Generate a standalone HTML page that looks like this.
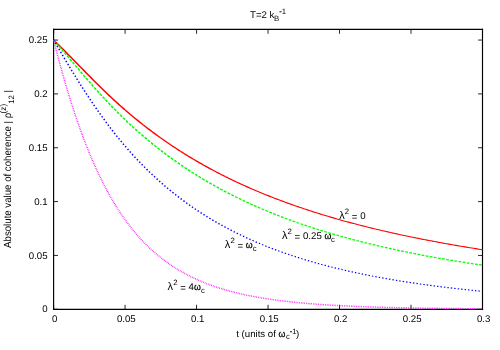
<!DOCTYPE html>
<html><head><meta charset="utf-8"><title>plot</title>
<style>
html,body{margin:0;padding:0;background:#fff;}
svg{display:block;will-change:transform;}
text{font-family:"Liberation Sans",sans-serif;font-size:9.66px;fill:#000;text-rendering:geometricPrecision;}
</style></head><body>
<svg width="500" height="350" viewBox="0 0 500 350">
<rect width="500" height="350" fill="#fff"/>
<path d="M53.60 309.28 h4.4 M482.50 309.28 h-4.4 M53.60 255.43 h4.4 M482.50 255.43 h-4.4 M53.60 201.59 h4.4 M482.50 201.59 h-4.4 M53.60 147.74 h4.4 M482.50 147.74 h-4.4 M53.60 93.90 h4.4 M482.50 93.90 h-4.4 M53.60 40.05 h4.4 M482.50 40.05 h-4.4 M53.60 309.28 v-4.5 M53.60 29.28 v4.5 M125.08 309.28 v-4.5 M125.08 29.28 v4.5 M196.57 309.28 v-4.5 M196.57 29.28 v4.5 M268.05 309.28 v-4.5 M268.05 29.28 v4.5 M339.53 309.28 v-4.5 M339.53 29.28 v4.5 M411.02 309.28 v-4.5 M411.02 29.28 v4.5 M482.50 309.28 v-4.5 M482.50 29.28 v4.5" stroke="#000" stroke-width="0.85" fill="none"/>
<path d="M53.60 29.28 H482.50 M53.60 309.28 H482.50" stroke="#000" stroke-width="1.2" stroke-linecap="square" fill="none"/>
<path d="M53.60 29.28 V309.28 M482.50 29.28 V309.28" stroke="#000" stroke-width="1.15" stroke-linecap="square" fill="none"/>
<g fill="none" stroke-linejoin="round">
<path d="M53.60 39.99 L55.39 41.73 L57.17 43.48 L58.96 45.24 L60.75 47.01 L62.54 48.80 L64.32 50.59 L66.11 52.39 L67.90 54.20 L69.68 56.02 L71.47 57.84 L73.26 59.67 L75.05 61.49 L76.83 63.32 L78.62 65.15 L80.41 66.98 L82.19 68.80 L83.98 70.62 L85.77 72.44 L87.55 74.26 L89.34 76.07 L91.13 77.87 L92.92 79.67 L94.70 81.45 L96.49 83.23 L98.28 85.00 L100.06 86.76 L101.85 88.51 L103.64 90.24 L105.43 91.96 L107.21 93.67 L109.00 95.37 L110.79 97.05 L112.57 98.72 L114.36 100.37 L116.15 102.00 L117.94 103.62 L119.72 105.22 L121.51 106.81 L123.30 108.38 L125.08 109.93" stroke="#ff0000" stroke-width="1.50"/>
<path d="M125.08 109.93 L126.87 111.47 L128.66 113.00 L130.44 114.51 L132.23 116.01 L134.02 117.49 L135.81 118.95 L137.59 120.41 L139.38 121.84 L141.17 123.27 L142.95 124.68" stroke="#ff0000" stroke-width="1.45"/>
<path d="M142.95 124.68 L144.74 126.07 L146.53 127.46 L148.32 128.83 L150.10 130.18 L151.89 131.52 L153.68 132.85 L155.46 134.17 L157.25 135.47 L159.04 136.76 L160.82 138.04" stroke="#ff0000" stroke-width="1.40"/>
<path d="M160.82 138.04 L162.61 139.30 L164.40 140.55 L166.19 141.79 L167.97 143.02 L169.76 144.24 L171.55 145.44 L173.33 146.63 L175.12 147.81 L176.91 148.98 L178.70 150.14 L180.48 151.28" stroke="#ff0000" stroke-width="1.35"/>
<path d="M180.48 151.28 L182.27 152.41 L184.06 153.54 L185.84 154.65 L187.63 155.75 L189.42 156.84 L191.21 157.91 L192.99 158.98 L194.78 160.04 L196.57 161.09 L198.35 162.12 L200.14 163.15 L201.93 164.16" stroke="#ff0000" stroke-width="1.30"/>
<path d="M201.93 164.16 L203.71 165.17 L205.50 166.17 L207.29 167.15 L209.08 168.13 L210.86 169.10 L212.65 170.06 L214.44 171.00 L216.22 171.94 L218.01 172.87 L219.80 173.80 L221.59 174.71 L223.37 175.61 L225.16 176.51" stroke="#ff0000" stroke-width="1.25"/>
<path d="M225.16 176.51 L226.95 177.40 L228.73 178.27 L230.52 179.14 L232.31 180.01 L234.10 180.86 L235.88 181.71 L237.67 182.54 L239.46 183.37 L241.24 184.19 L243.03 185.01 L244.82 185.82 L246.61 186.62 L248.39 187.41 L250.18 188.19 L251.97 188.97" stroke="#ff0000" stroke-width="1.20"/>
<path d="M251.97 188.97 L253.75 189.74 L255.54 190.50 L257.33 191.26 L259.11 192.01 L260.90 192.75 L262.69 193.49 L264.48 194.22 L266.26 194.94 L268.05 195.65 L269.84 196.36 L271.62 197.07 L273.41 197.76 L275.20 198.45 L276.99 199.14 L278.77 199.81 L280.56 200.49 L282.35 201.15 L284.13 201.81 L285.92 202.47 L287.71 203.12 L289.50 203.76 L291.28 204.40 L293.07 205.03 L294.86 205.65" stroke="#ff0000" stroke-width="1.15"/>
<path d="M294.86 205.65 L296.64 206.27 L298.43 206.89 L300.22 207.50 L302.00 208.10 L303.79 208.70 L305.58 209.30 L307.37 209.89 L309.15 210.47 L310.94 211.05 L312.73 211.62 L314.51 212.19 L316.30 212.76 L318.09 213.32 L319.88 213.87 L321.66 214.42 L323.45 214.97 L325.24 215.51 L327.02 216.05 L328.81 216.58 L330.60 217.10 L332.38 217.63 L334.17 218.15 L335.96 218.66 L337.75 219.17 L339.53 219.68 L341.32 220.18 L343.11 220.68 L344.89 221.17 L346.68 221.66 L348.47 222.15 L350.26 222.63 L352.04 223.11 L353.83 223.58 L355.62 224.05 L357.40 224.52 L359.19 224.98 L360.98 225.44 L362.77 225.89 L364.55 226.34 L366.34 226.79 L368.13 227.24 L369.91 227.68 L371.70 228.12 L373.49 228.55 L375.27 228.98 L377.06 229.41 L378.85 229.83 L380.64 230.25 L382.42 230.67 L384.21 231.08 L386.00 231.49 L387.78 231.90 L389.57 232.31 L391.36 232.71 L393.15 233.11 L394.93 233.50 L396.72 233.90 L398.51 234.28 L400.29 234.67 L402.08 235.06 L403.87 235.44 L405.66 235.81 L407.44 236.19 L409.23 236.56 L411.02 236.93 L412.80 237.30 L414.59 237.66 L416.38 238.02 L418.17 238.38 L419.95 238.74 L421.74 239.09 L423.53 239.44 L425.31 239.79 L427.10 240.14 L428.89 240.48 L430.67 240.82 L432.46 241.16 L434.25 241.49 L436.04 241.83 L437.82 242.16 L439.61 242.49 L441.40 242.81 L443.18 243.14 L444.97 243.46 L446.76 243.78 L448.55 244.10 L450.33 244.41 L452.12 244.72 L453.91 245.04 L455.69 245.34 L457.48 245.65 L459.27 245.95 L461.06 246.26 L462.84 246.56 L464.63 246.85 L466.42 247.15 L468.20 247.44 L469.99 247.74 L471.78 248.03 L473.56 248.32 L475.35 248.60 L477.14 248.89 L478.93 249.17 L480.71 249.45 L482.50 249.73" stroke="#ff0000" stroke-width="1.10"/>
<path d="M53.60 39.99 L55.39 42.06 L57.17 44.14 L58.96 46.23 L60.75 48.32 L62.54 50.42 L64.32 52.52 L66.11 54.63 L67.90 56.74 L69.68 58.85 L71.47 60.96 L73.26 63.07 L75.05 65.18 L76.83 67.28 L78.62 69.38 L80.41 71.48 L82.19 73.56 L83.98 75.64 L85.77 77.71 L87.55 79.78 L89.34 81.83 L91.13 83.87 L92.92 85.90 L94.70 87.91 L96.49 89.91 L98.28 91.90 L100.06 93.88 L101.85 95.83 L103.64 97.78 L105.43 99.70 L107.21 101.61 L109.00 103.50 L110.79 105.37 L112.57 107.22 L114.36 109.06 L116.15 110.87 L117.94 112.67 L119.72 114.44 L121.51 116.20 L123.30 117.94 L125.08 119.66 L126.87 121.36 L128.66 123.04 L130.44 124.70 L132.23 126.35 L134.02 127.98 L135.81 129.59 L137.59 131.18 L139.38 132.76 L141.17 134.32 L142.95 135.86 L144.74 137.39 L146.53 138.90 L148.32 140.39 L150.10 141.87 L151.89 143.33 L153.68 144.78 L155.46 146.21 L157.25 147.63 L159.04 149.03 L160.82 150.41 L162.61 151.78 L164.40 153.14 L166.19 154.48 L167.97 155.80 L169.76 157.12 L171.55 158.41 L173.33 159.70 L175.12 160.97 L176.91 162.23 L178.70 163.47 L180.48 164.70 L182.27 165.91 L184.06 167.12 L185.84 168.31 L187.63 169.49 L189.42 170.65 L191.21 171.80 L192.99 172.94" stroke="#00ff00" stroke-width="1.50" stroke-dasharray="2.78 1.39" stroke-dashoffset="0.00"/>
<path d="M192.99 172.94 L194.78 174.07 L196.57 175.19 L198.35 176.29 L200.14 177.39 L201.93 178.47 L203.71 179.53 L205.50 180.59 L207.29 181.64 L209.08 182.68 L210.86 183.70 L212.65 184.71" stroke="#00ff00" stroke-width="1.45" stroke-dasharray="2.78 1.39" stroke-dashoffset="1.73"/>
<path d="M212.65 184.71 L214.44 185.72 L216.22 186.71 L218.01 187.69 L219.80 188.67 L221.59 189.63 L223.37 190.58 L225.16 191.52 L226.95 192.45 L228.73 193.38 L230.52 194.29 L232.31 195.20 L234.10 196.09" stroke="#00ff00" stroke-width="1.40" stroke-dasharray="2.78 1.39" stroke-dashoffset="3.79"/>
<path d="M234.10 196.09 L235.88 196.98 L237.67 197.85 L239.46 198.72 L241.24 199.58 L243.03 200.43 L244.82 201.27 L246.61 202.11 L248.39 202.93 L250.18 203.75 L251.97 204.56 L253.75 205.36 L255.54 206.15 L257.33 206.93 L259.11 207.71" stroke="#00ff00" stroke-width="1.35" stroke-dasharray="2.78 1.39" stroke-dashoffset="3.05"/>
<path d="M259.11 207.71 L260.90 208.48 L262.69 209.24 L264.48 209.99 L266.26 210.74 L268.05 211.48 L269.84 212.21 L271.62 212.94 L273.41 213.65 L275.20 214.37 L276.99 215.07 L278.77 215.77 L280.56 216.46 L282.35 217.14 L284.13 217.82 L285.92 218.49 L287.71 219.15 L289.50 219.81 L291.28 220.46 L293.07 221.11 L294.86 221.74 L296.64 222.38 L298.43 223.00" stroke="#00ff00" stroke-width="1.30" stroke-dasharray="2.78 1.39" stroke-dashoffset="1.45"/>
<path d="M298.43 223.00 L300.22 223.63 L302.00 224.24 L303.79 224.85 L305.58 225.45 L307.37 226.05 L309.15 226.64 L310.94 227.23 L312.73 227.81 L314.51 228.39 L316.30 228.96 L318.09 229.52 L319.88 230.09 L321.66 230.64 L323.45 231.19 L325.24 231.73 L327.02 232.27 L328.81 232.81 L330.60 233.34 L332.38 233.87 L334.17 234.39 L335.96 234.90 L337.75 235.41 L339.53 235.92 L341.32 236.42 L343.11 236.92 L344.89 237.41 L346.68 237.90 L348.47 238.39 L350.26 238.87 L352.04 239.34 L353.83 239.81 L355.62 240.28 L357.40 240.74 L359.19 241.20 L360.98 241.66 L362.77 242.11 L364.55 242.56 L366.34 243.00 L368.13 243.44 L369.91 243.87 L371.70 244.31 L373.49 244.73 L375.27 245.16 L377.06 245.58 L378.85 246.00 L380.64 246.41 L382.42 246.82 L384.21 247.23 L386.00 247.63 L387.78 248.03 L389.57 248.43 L391.36 248.82 L393.15 249.21 L394.93 249.60 L396.72 249.98 L398.51 250.36 L400.29 250.74 L402.08 251.11 L403.87 251.48 L405.66 251.85 L407.44 252.21 L409.23 252.58 L411.02 252.93 L412.80 253.29 L414.59 253.64 L416.38 253.99 L418.17 254.34 L419.95 254.68 L421.74 255.03 L423.53 255.36 L425.31 255.70 L427.10 256.03 L428.89 256.36 L430.67 256.69 L432.46 257.02 L434.25 257.34 L436.04 257.66 L437.82 257.98 L439.61 258.29 L441.40 258.60 L443.18 258.91 L444.97 259.22 L446.76 259.53 L448.55 259.83 L450.33 260.13 L452.12 260.43 L453.91 260.72 L455.69 261.02 L457.48 261.31 L459.27 261.60 L461.06 261.89 L462.84 262.17 L464.63 262.45 L466.42 262.73 L468.20 263.01 L469.99 263.29 L471.78 263.56 L473.56 263.83 L475.35 264.10 L477.14 264.37 L478.93 264.64 L480.71 264.90 L482.50 265.16" stroke="#00ff00" stroke-width="1.25" stroke-dasharray="2.78 1.39" stroke-dashoffset="1.94"/>
<path d="M53.60 39.99 L55.39 43.06 L57.17 46.12 L58.96 49.17 L60.75 52.21 L62.54 55.23 L64.32 58.24 L66.11 61.23 L67.90 64.21 L69.68 67.16 L71.47 70.10 L73.26 73.02 L75.05 75.92 L76.83 78.80 L78.62 81.65 L80.41 84.48 L82.19 87.29 L83.98 90.07 L85.77 92.83 L87.55 95.56 L89.34 98.26 L91.13 100.94 L92.92 103.58 L94.70 106.20 L96.49 108.79 L98.28 111.35 L100.06 113.89 L101.85 116.39 L103.64 118.86 L105.43 121.30 L107.21 123.71 L109.00 126.08 L110.79 128.43 L112.57 130.74 L114.36 133.03 L116.15 135.28 L117.94 137.50 L119.72 139.68 L121.51 141.84 L123.30 143.97 L125.08 146.07 L126.87 148.14 L128.66 150.18 L130.44 152.19 L132.23 154.17 L134.02 156.13 L135.81 158.06 L137.59 159.96 L139.38 161.84 L141.17 163.69 L142.95 165.51 L144.74 167.31 L146.53 169.08 L148.32 170.83 L150.10 172.56 L151.89 174.26 L153.68 175.94 L155.46 177.59 L157.25 179.22 L159.04 180.83 L160.82 182.42 L162.61 183.98 L164.40 185.53 L166.19 187.05 L167.97 188.55 L169.76 190.03 L171.55 191.49 L173.33 192.93 L175.12 194.35 L176.91 195.75 L178.70 197.13 L180.48 198.49 L182.27 199.84 L184.06 201.16 L185.84 202.47 L187.63 203.76" stroke="#0000ff" stroke-width="1.50" stroke-dasharray="1.39 2.08" stroke-dashoffset="0.00"/>
<path d="M187.63 203.76 L189.42 205.03 L191.21 206.28 L192.99 207.52 L194.78 208.74 L196.57 209.94 L198.35 211.13 L200.14 212.30 L201.93 213.45" stroke="#0000ff" stroke-width="1.45" stroke-dasharray="1.39 2.08" stroke-dashoffset="1.72"/>
<path d="M201.93 213.45 L203.71 214.59 L205.50 215.72 L207.29 216.83 L209.08 217.92 L210.86 219.00 L212.65 220.06 L214.44 221.11 L216.22 222.15 L218.01 223.17" stroke="#0000ff" stroke-width="1.40" stroke-dasharray="1.39 2.08" stroke-dashoffset="1.65"/>
<path d="M218.01 223.17 L219.80 224.18 L221.59 225.17 L223.37 226.15 L225.16 227.12 L226.95 228.08 L228.73 229.02 L230.52 229.95 L232.31 230.87 L234.10 231.78 L235.88 232.67" stroke="#0000ff" stroke-width="1.35" stroke-dasharray="1.39 2.08" stroke-dashoffset="3.09"/>
<path d="M235.88 232.67 L237.67 233.55 L239.46 234.43 L241.24 235.29 L243.03 236.13 L244.82 236.97 L246.61 237.80 L248.39 238.61 L250.18 239.42 L251.97 240.21 L253.75 241.00" stroke="#0000ff" stroke-width="1.30" stroke-dasharray="1.39 2.08" stroke-dashoffset="2.51"/>
<path d="M253.75 241.00 L255.54 241.77 L257.33 242.54 L259.11 243.29 L260.90 244.04 L262.69 244.77 L264.48 245.50 L266.26 246.21 L268.05 246.92 L269.84 247.62 L271.62 248.31 L273.41 248.99 L275.20 249.66 L276.99 250.32 L278.77 250.98 L280.56 251.63 L282.35 252.27 L284.13 252.90" stroke="#0000ff" stroke-width="1.25" stroke-dasharray="1.39 2.08" stroke-dashoffset="1.41"/>
<path d="M284.13 252.90 L285.92 253.52 L287.71 254.13 L289.50 254.74 L291.28 255.34 L293.07 255.93 L294.86 256.52 L296.64 257.10 L298.43 257.67 L300.22 258.23 L302.00 258.79 L303.79 259.34 L305.58 259.88 L307.37 260.41 L309.15 260.94 L310.94 261.47 L312.73 261.98 L314.51 262.49 L316.30 263.00 L318.09 263.49 L319.88 263.99 L321.66 264.47 L323.45 264.95 L325.24 265.43 L327.02 265.89 L328.81 266.36 L330.60 266.81 L332.38 267.27 L334.17 267.71 L335.96 268.15 L337.75 268.59 L339.53 269.02 L341.32 269.44 L343.11 269.86 L344.89 270.28 L346.68 270.69 L348.47 271.09 L350.26 271.50 L352.04 271.89 L353.83 272.28 L355.62 272.67 L357.40 273.05 L359.19 273.43 L360.98 273.80 L362.77 274.17 L364.55 274.53 L366.34 274.89 L368.13 275.25 L369.91 275.60 L371.70 275.95 L373.49 276.29 L375.27 276.63 L377.06 276.97 L378.85 277.30 L380.64 277.63 L382.42 277.95 L384.21 278.27 L386.00 278.59 L387.78 278.90 L389.57 279.21 L391.36 279.52 L393.15 279.82 L394.93 280.12 L396.72 280.42 L398.51 280.71 L400.29 281.00 L402.08 281.28 L403.87 281.57 L405.66 281.84 L407.44 282.12 L409.23 282.39 L411.02 282.66 L412.80 282.93 L414.59 283.20 L416.38 283.46 L418.17 283.71 L419.95 283.97 L421.74 284.22 L423.53 284.47 L425.31 284.72 L427.10 284.96 L428.89 285.20 L430.67 285.44 L432.46 285.68 L434.25 285.91 L436.04 286.14 L437.82 286.37 L439.61 286.60 L441.40 286.82 L443.18 287.04 L444.97 287.26 L446.76 287.48 L448.55 287.69 L450.33 287.90 L452.12 288.11 L453.91 288.32 L455.69 288.52 L457.48 288.73 L459.27 288.93 L461.06 289.12 L462.84 289.32 L464.63 289.51 L466.42 289.71 L468.20 289.90 L469.99 290.08 L471.78 290.27 L473.56 290.45 L475.35 290.63 L477.14 290.81 L478.93 290.99 L480.71 291.17 L482.50 291.34" stroke="#0000ff" stroke-width="1.20" stroke-dasharray="1.39 2.08" stroke-dashoffset="2.82"/>
<path d="M53.60 39.99 L55.39 47.03 L57.17 53.90 L58.96 60.61 L60.75 67.18 L62.54 73.59 L64.32 79.84 L66.11 85.95 L67.90 91.92 L69.68 97.74 L71.47 103.42 L73.26 108.96 L75.05 114.36 L76.83 119.63 L78.62 124.77 L80.41 129.78 L82.19 134.66 L83.98 139.41 L85.77 144.05 L87.55 148.56 L89.34 152.95 L91.13 157.23 L92.92 161.40 L94.70 165.46 L96.49 169.41 L98.28 173.25 L100.06 176.99 L101.85 180.62 L103.64 184.16 L105.43 187.61 L107.21 190.95 L109.00 194.21 L110.79 197.37 L112.57 200.45 L114.36 203.44 L116.15 206.35 L117.94 209.17 L119.72 211.92 L121.51 214.59 L123.30 217.19 L125.08 219.71 L126.87 222.16 L128.66 224.54 L130.44 226.86 L132.23 229.11 L134.02 231.30 L135.81 233.43 L137.59 235.50 L139.38 237.51 L141.17 239.47 L142.95 241.37 L144.74 243.22 L146.53 245.01 L148.32 246.76 L150.10 248.46 L151.89 250.11 L153.68 251.71 L155.46 253.28 L157.25 254.79 L159.04 256.27 L160.82 257.70 L162.61 259.10 L164.40 260.45 L166.19 261.77 L167.97 263.05 L169.76 264.30 L171.55 265.51 L173.33 266.69 L175.12 267.84 L176.91 268.95 L178.70 270.04 L180.48 271.09 L182.27 272.11 L184.06 273.11 L185.84 274.08 L187.63 275.02 L189.42 275.94 L191.21 276.83 L192.99 277.70 L194.78 278.54 L196.57 279.36 L198.35 280.16 L200.14 280.93 L201.93 281.69 L203.71 282.42 L205.50 283.14 L207.29 283.83 L209.08 284.51 L210.86 285.16 L212.65 285.80 L214.44 286.42 L216.22 287.03 L218.01 287.62 L219.80 288.19 L221.59 288.75 L223.37 289.29 L225.16 289.81 L226.95 290.33 L228.73 290.83 L230.52 291.31 L232.31 291.78 L234.10 292.24 L235.88 292.69 L237.67 293.13 L239.46 293.55 L241.24 293.96 L243.03 294.36 L244.82 294.75 L246.61 295.13 L248.39 295.50 L250.18 295.86 L251.97 296.21 L253.75 296.55 L255.54 296.89 L257.33 297.21 L259.11 297.52 L260.90 297.83 L262.69 298.13 L264.48 298.42 L266.26 298.70 L268.05 298.97 L269.84 299.24 L271.62 299.50 L273.41 299.75 L275.20 300.00 L276.99 300.24 L278.77 300.47 L280.56 300.70 L282.35 300.92 L284.13 301.14 L285.92 301.35 L287.71 301.55 L289.50 301.75 L291.28 301.94 L293.07 302.13 L294.86 302.32 L296.64 302.49 L298.43 302.67 L300.22 302.84 L302.00 303.00 L303.79 303.16 L305.58 303.32 L307.37 303.47 L309.15 303.62 L310.94 303.77 L312.73 303.91 L314.51 304.04 L316.30 304.18 L318.09 304.31 L319.88 304.43 L321.66 304.56 L323.45 304.68 L325.24 304.79 L327.02 304.91 L328.81 305.02 L330.60 305.13 L332.38 305.23 L334.17 305.34 L335.96 305.44 L337.75 305.53 L339.53 305.63 L341.32 305.72 L343.11 305.81 L344.89 305.90 L346.68 305.98 L348.47 306.07 L350.26 306.15 L352.04 306.23 L353.83 306.30 L355.62 306.38 L357.40 306.45 L359.19 306.52 L360.98 306.59 L362.77 306.66 L364.55 306.72 L366.34 306.79 L368.13 306.85 L369.91 306.91 L371.70 306.97 L373.49 307.03 L375.27 307.09 L377.06 307.14 L378.85 307.19 L380.64 307.25 L382.42 307.30 L384.21 307.35 L386.00 307.39 L387.78 307.44 L389.57 307.49 L391.36 307.53 L393.15 307.58 L394.93 307.62 L396.72 307.66 L398.51 307.70 L400.29 307.74 L402.08 307.78 L403.87 307.81 L405.66 307.85 L407.44 307.89 L409.23 307.92 L411.02 307.95 L412.80 307.99 L414.59 308.02 L416.38 308.05 L418.17 308.08 L419.95 308.11 L421.74 308.14 L423.53 308.17 L425.31 308.20 L427.10 308.22 L428.89 308.25 L430.67 308.27 L432.46 308.30 L434.25 308.32 L436.04 308.35 L437.82 308.37 L439.61 308.39 L441.40 308.41 L443.18 308.43 L444.97 308.46 L446.76 308.48 L448.55 308.50 L450.33 308.51 L452.12 308.53 L453.91 308.55 L455.69 308.57 L457.48 308.59 L459.27 308.60 L461.06 308.62 L462.84 308.64 L464.63 308.65 L466.42 308.67 L468.20 308.68 L469.99 308.70 L471.78 308.71 L473.56 308.73 L475.35 308.74 L477.14 308.75 L478.93 308.77 L480.71 308.78 L482.50 308.79" stroke="#ff00ff" stroke-width="1.50" stroke-dasharray="0.69 1.04" stroke-dashoffset="0.00"/>
</g>
<g>
<text x="47.6" y="312.48" text-anchor="end">0</text>
<text x="47.6" y="258.63" text-anchor="end">0.05</text>
<text x="47.6" y="204.79" text-anchor="end">0.1</text>
<text x="47.6" y="150.94" text-anchor="end">0.15</text>
<text x="47.6" y="97.10" text-anchor="end">0.2</text>
<text x="47.6" y="43.25" text-anchor="end">0.25</text>
<text x="54.80" y="322.1" text-anchor="middle">0</text>
<text x="126.28" y="322.1" text-anchor="middle">0.05</text>
<text x="197.77" y="322.1" text-anchor="middle">0.1</text>
<text x="269.25" y="322.1" text-anchor="middle">0.15</text>
<text x="340.73" y="322.1" text-anchor="middle">0.2</text>
<text x="412.22" y="322.1" text-anchor="middle">0.25</text>
<text x="483.70" y="322.1" text-anchor="middle">0.3</text>
</g>
<text x="250" y="18">T=2 k<tspan dx="-0.4" y="21" font-size="7.78">B</tspan><tspan dx="-0.1" y="14" font-size="7.78">-1</tspan></text>
<text x="236.2" y="337">t (units of <tspan x="278.5" textLength="6.86" lengthAdjust="spacingAndGlyphs" stroke="#000" stroke-width="0.25">ω</tspan><tspan x="286.1" y="339" font-size="7.78">c</tspan><tspan x="289.7" y="334" font-size="7.78">-1</tspan><tspan x="296.1" y="337">)</tspan></text>
<path d="M279.7 11.6 h2 M290 331.5 h2" stroke="#000" stroke-width="0.6" fill="none"/>
<g transform="translate(10.9 247.9) rotate(-90)">
<text x="0" y="0" transform="scale(1 1.07)">Absolute value of coherence</text>
<text x="124.4" y="0">|</text>
<text x="129.7" y="0" transform="scale(1 1.07)">ρ</text>
<text x="134.5" y="-4.9" style="font-size:8.2px">(z)</text>
<text x="144.1" y="3.2" style="font-size:7.78px">12</text>
<text x="155.4" y="0">|</text>
</g>
<text y="219"><tspan x="339.19" font-size="11">λ</tspan><tspan x="344.78" y="214" font-size="7.78">2</tspan><tspan x="351.81" y="220">=</tspan><tspan x="360.19" y="219">0</tspan></text>
<text y="239"><tspan x="282.00" font-size="11">λ</tspan><tspan x="287.59" y="234" font-size="7.78">2</tspan><tspan x="294.62" y="240">=</tspan><tspan x="303.00" y="239">0.25</tspan><tspan x="324.40" y="239" textLength="6.86" lengthAdjust="spacingAndGlyphs" stroke="#000" stroke-width="0.25">ω</tspan><tspan x="331.07" y="242" font-size="7.78">c</tspan></text>
<text y="248"><tspan x="224.80" font-size="11">λ</tspan><tspan x="230.39" y="243" font-size="7.78">2</tspan><tspan x="237.42" y="249">=</tspan><tspan x="245.80" y="248" textLength="6.86" lengthAdjust="spacingAndGlyphs" stroke="#000" stroke-width="0.25">ω</tspan><tspan x="252.80" y="251" font-size="7.78">c</tspan></text>
<text y="290"><tspan x="167.61" font-size="11">λ</tspan><tspan x="173.20" y="285" font-size="7.78">2</tspan><tspan x="180.23" y="291">=</tspan><tspan x="188.61" y="290">4</tspan><tspan x="194.00" y="290" textLength="6.86" lengthAdjust="spacingAndGlyphs" stroke="#000" stroke-width="0.25">ω</tspan><tspan x="201.10" y="293" font-size="7.78">c</tspan></text>
</svg>
</body></html>
